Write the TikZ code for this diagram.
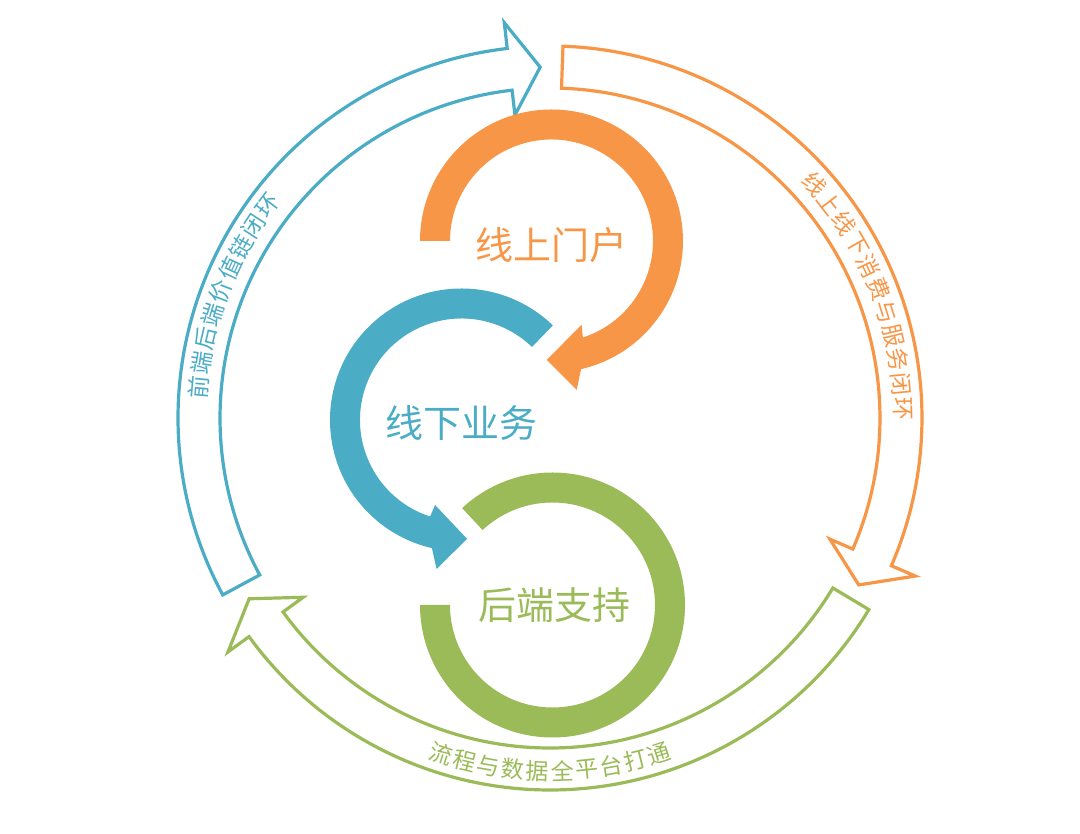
\documentclass[tikz,border=0pt]{standalone}
\usepackage{fontspec}
\setmainfont{Noto Sans CJK SC}
\definecolor{portal}{HTML}{F79646}
\definecolor{offline}{HTML}{4BACC6}
\definecolor{backend}{HTML}{9BBB59}
\tikzstyle{loopline} = [line width=3.2pt, fill=white, line join=miter]
\tikzstyle{hub} = [font=\fontsize{38}{40}\selectfont, inner sep=0pt]
\tikzstyle{arcchar} = [font=\fontsize{23}{24}\selectfont, inner sep=0pt]
\newcommand{\looparrow}[3]{%
  \path [loopline, draw=#1] (#2:372) arc[start angle=#2, end angle={#3+5}, radius=372]
    -- ({#3+5}:398) -- (#3:351) -- ({#3+5}:305) -- ({#3+5}:330)
    arc[start angle={#3+5}, end angle=#2, radius=330] -- cycle;}

\begin{document}
\begin{tikzpicture}[x=1pt,y=1pt]
    \useasboundingbox (-550,-416) rectangle (530,418);
    \looparrow{offline}{208.4}{91.6}
    \looparrow{portal}{88}{-28.4}
    \looparrow{backend}{-31}{-149}
    \foreach \ch [count=\i from 0] in {前,端,后,端,价,值,链,闭,环}
        \node [arcchar, text=offline, rotate={85-4*\i}] (value\i) at ({175-4*\i}:353) {\ch};
    \foreach \ch [count=\i from 0] in {线,上,线,下,消,费,与,服,务,闭,环}
        \node [arcchar, text=portal, rotate={-48.5-4*\i}] (service\i) at ({41.5-4*\i}:353) {\ch};
    \foreach \ch [count=\i from 0] in {流,程,与,数,据,全,平,台,打,通}
        \node [arcchar, text=backend, rotate={-18+4*\i}] (flow\i) at ({252+4*\i}:353) {\ch};
    \begin{scope}[shift={(1.5,177)}]
        \fill [portal] (180:131.5) arc[start angle=180, end angle=-77, radius=131.5]
            -- (-80.4:151) -- (-92.3:119) -- (-70.2:89) -- (-72:101.5)
            arc[start angle=-72, end angle=180, radius=101.5] -- cycle;
        \node [hub, text=portal] (portal) at (0,-4) {线上门户};
    \end{scope}
    \begin{scope}[shift={(-88.5,-2)}]
        \fill [offline] (46:131.5) arc[start angle=46, end angle=257, radius=131.5]
            -- (260.5:151) -- (272.7:119) -- (252.7:89) -- (252:101.5)
            arc[start angle=252, end angle=46, radius=101.5] -- cycle;
        \node [hub, text=offline] (offline) at (0,-3) {线下业务};
    \end{scope}
    \begin{scope}[shift={(2.5,-187)}]
        \fill [backend] (180:132.5) arc[start angle=180, end angle=493, radius=132.5]
            -- (493:102.5) arc[start angle=493, end angle=180, radius=102.5] -- cycle;
        \node [hub, text=backend] (backend) at (2,0) {后端支持};
    \end{scope}
\end{tikzpicture}
\end{document}
